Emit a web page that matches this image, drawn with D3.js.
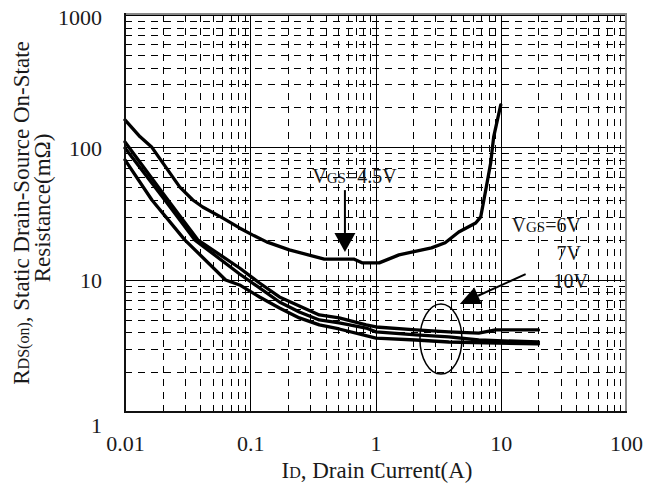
<!DOCTYPE html>
<html><head><meta charset="utf-8">
<script src="https://cdn.jsdelivr.net/npm/d3@7"></script>
<style>body{margin:0;background:#fff}svg text{font-family:"Liberation Serif","Times New Roman",serif;fill:#1a1a1a}</style>
</head><body><svg id="c" width="645" height="490"></svg>
<script>
// ---- data ----
const xTicks = [0.01, 0.1, 1, 10, 100];
const yTicks = [1, 10, 100, 1000];

// VGS = 4.5V
const id45  = [0.01, 0.0132, 0.0164, 0.0274, 0.0348, 0.0417, 0.060, 0.082, 0.104, 0.135, 0.205, 0.39, 0.67, 0.78, 1.07, 1.54, 2.8, 3.6, 4.62, 6.31, 6.92, 7.59, 8.31, 8.78, 10];
const rds45 = [161, 120, 100, 50, 40, 35.4, 29.3, 24.6, 21.8, 19.3, 16.8, 14.3, 14.3, 13.4, 13.4, 15.4, 17.4, 19.0, 22.9, 26.8, 29.8, 47.6, 76.2, 120, 209];
// VGS = 6V
const id6   = [0.01, 0.022, 0.0381, 0.0822, 0.1186, 0.171, 0.2466, 0.356, 0.513, 0.842, 1.01, 2.10, 3.85, 6.67, 9.1, 20];
const rds6  = [109.9, 40, 20, 12.25, 9.44, 7.40, 6.33, 5.41, 5.14, 4.55, 4.39, 4.17, 4.03, 3.95, 4.17, 4.17];
// VGS = 7V
const id7   = [0.01, 0.0208, 0.036, 0.0822, 0.1186, 0.171, 0.2466, 0.356, 0.513, 0.842, 1.01, 2.10, 3.85, 6.67, 20];
const rds7  = [98.9, 40, 20, 11.04, 8.66, 6.78, 5.70, 4.96, 4.71, 4.31, 4.03, 3.82, 3.69, 3.50, 3.38];
// VGS = 10V
const id10  = [0.01, 0.0164, 0.030, 0.0636, 0.0822, 0.1186, 0.171, 0.2466, 0.356, 0.513, 1.01, 2.10, 3.85, 20];
const rds10 = [80.3, 40, 20, 9.95, 9.12, 7.40, 6.11, 5.14, 4.55, 4.24, 3.62, 3.50, 3.38, 3.27];

const seriesList = [[id45, rds45], [id6, rds6], [id7, rds7], [id10, rds10]];

// ---- layout ----
const L = 125, R = 626, T = 15, B = 412;
const svg = d3.select("#c");
const x = d3.scaleLog().domain([0.01, 100]).range([L, R]);
const y = d3.scaleLog().domain([1, 1000]).range([B, T]);

const xMinor = x.ticks().filter(v => !xTicks.some(t => Math.abs(t - v) / t < 1e-6));
const yMinor = y.ticks().filter(v => !yTicks.some(t => Math.abs(t - v) / t < 1e-6));

// minor dashed grid
const gxm = svg.append("g").attr("transform", `translate(0,${B})`)
  .call(d3.axisBottom(x).tickValues(xMinor).tickSize(-(B - T)).tickFormat(""));
gxm.select(".domain").remove();
gxm.selectAll("line").attr("stroke", "#000").attr("stroke-width", 1).attr("stroke-dasharray", "7,6").attr("shape-rendering", "crispEdges");

const gym = svg.append("g").attr("transform", `translate(${L},0)`)
  .call(d3.axisLeft(y).tickValues(yMinor).tickSize(-(R - L)).tickFormat(""));
gym.select(".domain").remove();
gym.selectAll("line").attr("stroke", "#000").attr("stroke-width", 1).attr("stroke-dasharray", "7,6").attr("shape-rendering", "crispEdges");

// major solid grid
const gxM = svg.append("g").attr("transform", `translate(0,${B})`)
  .call(d3.axisBottom(x).tickValues(xTicks).tickSize(-(B - T)).tickFormat(""));
gxM.select(".domain").remove();
gxM.selectAll("line").attr("stroke", "#000").attr("stroke-width", 1).attr("shape-rendering", "crispEdges");
const gyM = svg.append("g").attr("transform", `translate(${L},0)`)
  .call(d3.axisLeft(y).tickValues(yTicks).tickSize(-(R - L)).tickFormat(""));
gyM.select(".domain").remove();
gyM.selectAll("line").attr("stroke", "#000").attr("stroke-width", 1).attr("shape-rendering", "crispEdges");

// tick labels
const ax = svg.append("g").attr("transform", `translate(0,${B})`)
  .call(d3.axisBottom(x).tickValues(xTicks).tickSize(0).tickPadding(23).tickFormat(d => String(d)));
ax.select(".domain").remove();
ax.selectAll("text").attr("font-size", 22).style("font-family", '"Liberation Serif",serif').attr("fill", "#1a1a1a");

const ay = svg.append("g").attr("transform", `translate(${L},0)`)
  .call(d3.axisLeft(y).tickValues(yTicks).tickSize(0).tickPadding(23).tickFormat(d => String(d)));
ay.select(".domain").remove();
ay.selectAll("text").attr("font-size", 22).style("font-family", '"Liberation Serif",serif').attr("fill", "#1a1a1a")
  .attr("dy", d => d === 1 ? "0.95em" : (d === 1000 ? "0.45em" : "0.35em"));

// curves
const line = d3.line().x(d => x(d[0])).y(d => y(d[1]));
seriesList.forEach(([xs, ys]) => {
  svg.append("path").datum(xs.map((v, i) => [v, ys[i]]))
    .attr("d", line).attr("fill", "none").attr("stroke", "#000")
    .attr("stroke-width", 3.3).attr("stroke-linejoin", "round").attr("stroke-linecap", "round");
});

// frame
svg.append("line").attr("x1", L).attr("x2", R).attr("y1", T - 1).attr("y2", T - 1).attr("stroke", "#888").attr("stroke-width", 2);
svg.append("line").attr("x1", R).attr("x2", R).attr("y1", T - 2).attr("y2", B).attr("stroke", "#888").attr("stroke-width", 2);
svg.append("line").attr("x1", L).attr("x2", L).attr("y1", T - 2).attr("y2", B + 1).attr("stroke", "#111").attr("stroke-width", 2);
svg.append("line").attr("x1", L).attr("x2", R + 1).attr("y1", B).attr("y2", B).attr("stroke", "#111").attr("stroke-width", 2);

// axis titles
const xt = svg.append("text").attr("x", 377).attr("y", 478).attr("text-anchor", "middle").attr("font-size", 23);
xt.append("tspan").text("I");
xt.append("tspan").attr("font-size", 16).text("D");
xt.append("tspan").text(", Drain Current(A)");

const yt1 = svg.append("text").attr("transform", "translate(29,213) rotate(-90)").attr("text-anchor", "middle").attr("font-size", 23);
yt1.append("tspan").text("R");
yt1.append("tspan").attr("font-size", 16).text("DS(on)");
yt1.append("tspan").text(", Static Drain-Source On-State");
svg.append("text").attr("transform", "translate(50,208) rotate(-90)").attr("text-anchor", "middle").attr("font-size", 23).text("Resistance(mΩ)");

// annotations
function vgsLabel(I, Rv, rest) {
  const t = svg.append("text").attr("x", x(I)).attr("y", y(Rv)).attr("font-size", 20);
  t.append("tspan").text("V");
  t.append("tspan").attr("font-size", 15).text("GS");
  t.append("tspan").text(rest);
}
vgsLabel(0.313, 53.8, "=4.5V");
vgsLabel(12.2, 22.9, "=6V");
svg.append("text").attr("x", x(27.9)).attr("y", y(14.1)).attr("font-size", 20).text("7V");
svg.append("text").attr("x", x(26.4)).attr("y", y(8.66)).attr("font-size", 20).text("10V");

function arrow(x0, y0, x1, y1, len, hw) {
  const dx = x1 - x0, dy = y1 - y0, d = Math.hypot(dx, dy), ux = dx / d, uy = dy / d;
  const bx = x1 - ux * len, by = y1 - uy * len;
  svg.append("line").attr("x1", x0).attr("y1", y0).attr("x2", bx).attr("y2", by).attr("stroke", "#000").attr("stroke-width", 2);
  svg.append("polygon").attr("points", [[x1, y1], [bx - uy * hw, by + ux * hw], [bx + uy * hw, by - ux * hw]].map(p => p.join(",")).join(" ")).attr("fill", "#000");
}
arrow(x(0.57), y(47.5), x(0.57), y(16.2), 19, 10.5);
arrow(x(15.8), y(11.0), x(4.71), y(6.55), 20, 9);

svg.append("ellipse").attr("cx", x(3.33)).attr("cy", y(3.56)).attr("rx", 21).attr("ry", 35)
  .attr("fill", "none").attr("stroke", "#000").attr("stroke-width", 1.5);
</script></body></html>
